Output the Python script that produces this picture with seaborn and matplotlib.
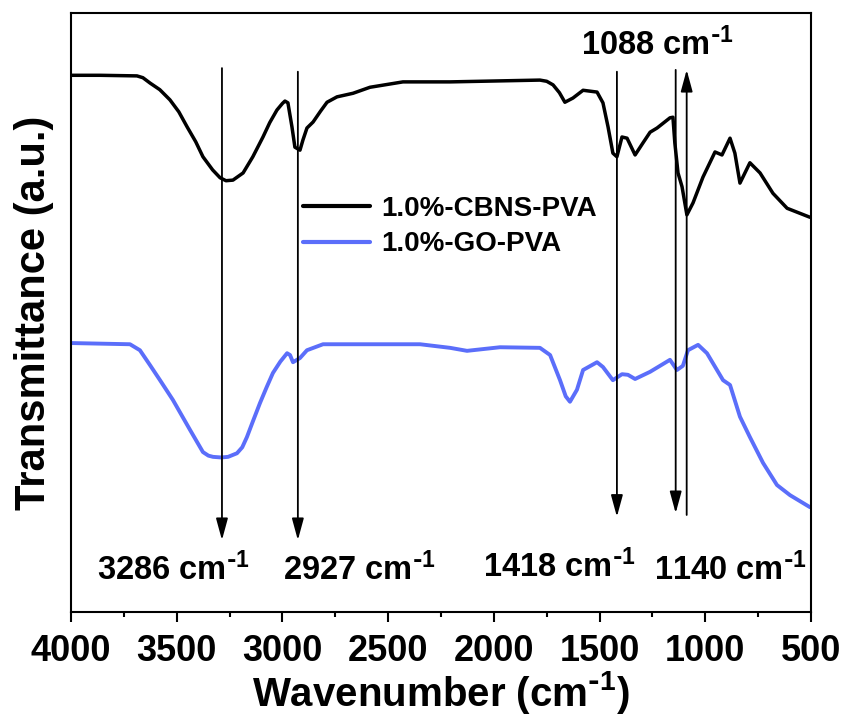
import numpy as np
import pandas as pd
import seaborn as sns
import matplotlib
matplotlib.use("Agg")
import matplotlib.pyplot as plt
from matplotlib.ticker import MultipleLocator

# ---- data (transmittance in arbitrary units) ----
cbns_wn = [4000, 3863, 3688, 3660, 3626, 3580, 3532, 3490, 3451, 3410, 3376, 3330,
           3295, 3267, 3234, 3186, 3140, 3092, 3060, 3026, 3000, 2988, 2974, 2955,
           2941, 2917, 2903, 2884, 2855, 2820, 2789, 2742, 2666, 2586, 2430, 2207,
           1782, 1750, 1720, 1690, 1664, 1626, 1578, 1512, 1484, 1460, 1437, 1418,
           1394, 1370, 1332, 1295, 1261, 1228, 1167, 1153, 1144, 1129, 1110, 1087,
           1058, 1011, 954, 921, 883, 860, 836, 789, 741, 680, 613, 505]
cbns_t = [89.6, 89.6, 89.5, 89.2, 88.3, 87.2, 85.5, 83.5, 81.0, 78.5, 76.0, 73.8,
          72.5, 72.0, 72.1, 73.3, 76.0, 79.3, 81.7, 83.8, 84.9, 85.3, 85.0, 81.0,
          77.6, 77.1, 78.8, 80.8, 81.8, 83.6, 85.1, 86.0, 86.6, 87.6, 88.5, 88.5,
          88.8, 88.6, 88.0, 86.7, 85.1, 85.8, 87.1, 86.8, 85.0, 81.0, 76.6, 76.0,
          79.3, 79.1, 76.3, 78.3, 80.1, 80.8, 82.5, 82.6, 78.3, 73.3, 71.0, 66.3,
          68.3, 72.6, 76.8, 76.3, 79.1, 76.6, 71.6, 75.0, 73.3, 69.9, 67.4, 65.9]

go_wn = [4000, 3721, 3674, 3626, 3579, 3518, 3437, 3376, 3350, 3328, 3290, 3257,
         3215, 3190, 3168, 3140, 3106, 3075, 3045, 3010, 2978, 2964, 2950, 2917,
         2884, 2808, 2349, 2207, 2127, 1971, 1782, 1734, 1687, 1660, 1640, 1607,
         1578, 1512, 1484, 1437, 1394, 1366, 1332, 1261, 1167, 1134, 1106, 1082,
         1034, 992, 916, 883, 836, 789, 727, 661, 599, 505]
go_t = [44.9, 44.7, 43.7, 41.2, 38.7, 35.4, 30.4, 26.7, 26.1, 25.9, 25.8, 25.9,
        26.5, 27.5, 29.2, 31.8, 34.9, 37.5, 39.9, 41.8, 43.2, 42.9, 41.7, 42.4,
        43.7, 44.7, 44.7, 44.1, 43.6, 44.2, 44.1, 42.9, 38.7, 36.0, 35.1, 37.1,
        40.4, 41.7, 40.9, 38.7, 39.7, 39.6, 38.9, 40.1, 42.1, 40.4, 41.1, 43.7,
        44.6, 43.2, 38.7, 37.9, 32.6, 29.2, 24.9, 21.2, 19.5, 17.5]

series_names = ["1.0%-CBNS-PVA", "1.0%-GO-PVA"]
series_colors = ["#000000", "#5B6EFA"]

# annotated peaks
peak_labels = ["3286", "2927", "1418", "1140", "1088"]
down_arrows = [(3286, 90.8, 12.0), (2927, 90.2, 12.0), (1418, 90.2, 15.9), (1140, 90.5, 16.5)]
up_arrow = (1088, 16.2, 90.5)
label_pos = [(3286 + 230, 7.0), (2927 - 290, 7.0), (1418 + 270, 7.6), (1140 - 260, 7.0),
             (1088 + 140, 94.7)]

x_ticks = [4000, 3500, 3000, 2500, 2000, 1500, 1000, 500]

# ---- figure ----
sns.set_theme(style="white")
plt.rcParams["font.family"] = ["Liberation Sans", "DejaVu Sans"]
plt.rcParams["font.weight"] = "bold"
plt.rcParams["mathtext.default"] = "regular"
plt.rcParams["text.color"] = "black"
plt.rcParams["axes.labelcolor"] = "black"
plt.rcParams["xtick.color"] = "black"
plt.rcParams["ytick.color"] = "black"

fig = plt.figure(figsize=(8.46, 7.19), dpi=100)
ax = fig.add_axes([71 / 846, 1 - 612 / 719, 740 / 846, 599 / 719])

df = pd.concat([
    pd.DataFrame({"wn": cbns_wn, "T": cbns_t, "sample": series_names[0]}),
    pd.DataFrame({"wn": go_wn, "T": go_t, "sample": series_names[1]}),
])
sns.lineplot(data=df, x="wn", y="T", hue="sample", palette=series_colors,
             sort=False, estimator=None, linewidth=2.5, ax=ax)
lines = ax.get_lines()
for ln in lines:
    ln.set_solid_joinstyle("round")
    ln.set_solid_capstyle("round")
if len(lines) > 1:
    lines[1].set_linewidth(2.8)

ax.set_xlim(4000, 500)
ax.set_ylim(0, 100)
ax.set_xticks(x_ticks)
ax.xaxis.set_minor_locator(MultipleLocator(250))
ax.set_yticks([])
ax.tick_params(axis="x", which="major", direction="out", length=7, width=1.5,
               labelsize=26, pad=9, bottom=True)
ax.tick_params(axis="x", which="minor", direction="out", length=3.5, width=1.5,
               bottom=True)
for lab in ax.get_xticklabels():
    lab.set_fontweight("bold")
for sp in ax.spines.values():
    sp.set_linewidth(1.5)
    sp.set_color("black")

ax.set_xlabel("Wavenumber (cm$^{\\text{-}1}$)", fontsize=29, fontweight="bold", labelpad=0)
ax.set_ylabel("Transmittance (a.u.)", fontsize=30, fontweight="bold", labelpad=12)

# arrows
arrow_kw = dict(arrowstyle="-|>,head_length=1.1,head_width=0.3", color="black",
                lw=1.3, shrinkA=0, shrinkB=0)
for x, y0, y1 in down_arrows:
    ax.annotate("", xy=(x, y1), xytext=(x, y0), arrowprops=arrow_kw)
ax.annotate("", xy=(up_arrow[0], up_arrow[2]), xytext=(up_arrow[0], up_arrow[1]),
            arrowprops=arrow_kw)

for (x, y), lab in zip(label_pos, peak_labels):
    ax.text(x, y, lab + " cm$^{\\text{-}1}$", fontsize=23.5, fontweight="bold",
            ha="center", va="center")

leg = ax.legend(loc="center left", bbox_to_anchor=(0.3135, 0.6436), frameon=False,
                fontsize=20, handlelength=2.4, handletextpad=0.4, labelspacing=0.35,
                borderpad=0, borderaxespad=0, title=None)
for t in leg.get_texts():
    t.set_fontweight("bold")
for h in leg.get_lines():
    h.set_linewidth(3)

fig.savefig("out.png", dpi=100)
